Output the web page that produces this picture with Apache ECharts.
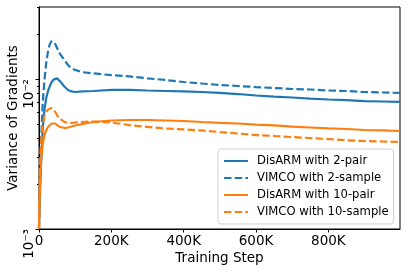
<!DOCTYPE html>
<html>
<head>
<meta charset="utf-8">
<script src="https://cdn.jsdelivr.net/npm/echarts@6/dist/echarts.min.js"></script>
<style>html,body{margin:0;padding:0;background:#fff}#c{width:407px;height:268px}</style>
</head>
<body>
<div id="c"></div>
<script>
// Training steps (thousands)
const stepsK = [0, 2, 5, 10, 15, 20, 25, 30, 35, 40, 45, 50, 55, 60, 70, 80, 90, 100, 120, 150,
  200, 250, 300, 350, 400, 450, 500, 550, 600, 650, 700, 750, 800, 850, 900, 950, 998];

const disarm2 = [0.001, 0.00156, 0.00247, 0.00457, 0.00621, 0.00747, 0.00832, 0.00898, 0.00955, 0.0099,
  0.0102, 0.0101, 0.00985, 0.00955, 0.00891, 0.00845, 0.00826, 0.00819, 0.00826, 0.00832,
  0.00845, 0.00845, 0.00838, 0.00832, 0.00826, 0.00819, 0.00807, 0.00794, 0.00776, 0.00764,
  0.00753, 0.00741, 0.0073, 0.00724, 0.00713, 0.00708, 0.00703];

const vimco2 = [0.001, 0.00197, 0.00336, 0.0067, 0.0098, 0.0128, 0.0154, 0.0171, 0.0179, 0.0178,
  0.0171, 0.0161, 0.0151, 0.0145, 0.0134, 0.0124, 0.0118, 0.0115, 0.0111, 0.0109,
  0.0106, 0.0104, 0.0101, 0.00985, 0.00955, 0.00933, 0.00912, 0.00898, 0.00884, 0.00871,
  0.00858, 0.00851, 0.00838, 0.00832, 0.00819, 0.00813, 0.00807];

const disarm10 = [0.001, 0.00169, 0.00267, 0.00363, 0.00423, 0.00457, 0.00479, 0.00493, 0.00505, 0.0051,
  0.00505, 0.00493, 0.00482, 0.00475, 0.00471, 0.00475, 0.00482, 0.0049, 0.00501, 0.00517,
  0.00529, 0.00533, 0.00533, 0.00529, 0.00525, 0.00517, 0.0051, 0.00505, 0.00497, 0.0049,
  0.00482, 0.00475, 0.00468, 0.00464, 0.00457, 0.00454, 0.0045];

const vimco10 = [0.001, 0.00229, 0.00363, 0.00493, 0.00567, 0.00603, 0.00626, 0.0064, 0.0064, 0.00626,
  0.00603, 0.00575, 0.0055, 0.00537, 0.00517, 0.0051, 0.0051, 0.00513, 0.00517, 0.00521,
  0.00513, 0.00493, 0.00479, 0.00468, 0.00461, 0.00454, 0.00443, 0.00433, 0.00423, 0.00417,
  0.0041, 0.00404, 0.00398, 0.0039, 0.00386, 0.00383, 0.0038];

const seriesNames = ['DisARM with 2-pair', 'VIMCO with 2-sample', 'DisARM with 10-pair', 'VIMCO with 10-sample'];
const xTicks = [0, 200000, 400000, 600000, 800000];
const yMajorExp = [-3, -2];
const yMinor = [0.002, 0.003, 0.004, 0.005, 0.006, 0.007, 0.008, 0.009, 0.02, 0.03];
const yMin = 0.001, yMax = 0.0302;

const FONT = 'DejaVu Sans';
const BLUE = '#1f77b4', ORANGE = '#ff7f0e';
const sup = {'-': '⁻', '0': '⁰', '1': '¹', '2': '²', '3': '³', '4': '⁴', '5': '⁵', '6': '⁶', '7': '⁷', '8': '⁸', '9': '⁹'};
const supStr = s => String(s).split('').map(c => sup[c]).join('');

const pairs = arr => stepsK.map((s, i) => [s * 1000, arr[i]]);
const dataSets = [disarm2, vimco2, disarm10, vimco10];
const colors = [BLUE, BLUE, ORANGE, ORANGE];
const dashed = [false, true, false, true];

const lmin = Math.log10(yMin), lmax = Math.log10(yMax);
const labelAxis = (exp, extra) => Object.assign({
  type: 'value', min: lmin, max: lmax, position: 'left',
  axisLine: {show: false},
  axisTick: {show: true, length: 3.5, lineStyle: {color: '#000'}, customValues: [exp]},
  axisLabel: {show: true, customValues: [exp], rotate: 90, align: 'right', verticalAlign: 'bottom',
    alignMinLabel: 'right', alignMaxLabel: 'right',
    margin: 3, fontSize: 13.5, color: '#000', fontFamily: FONT,
    formatter: v => '10' + supStr(Math.round(v))},
  splitLine: {show: false}
}, extra || {});

const chart = echarts.init(document.getElementById('c'), null, {renderer: 'canvas'});
chart.setOption({
  animation: false,
  textStyle: {fontFamily: FONT},
  grid: {left: 39, right: 7, top: 7, bottom: 39, outerBoundsMode: 'none', containLabel: false,
    show: true, borderColor: '#000', borderWidth: 1, backgroundColor: 'transparent'},
  xAxis: {
    type: 'value', min: 0, max: 998000,
    name: 'Training Step', nameLocation: 'middle', nameGap: 22, nameMoveOverlap: false,
    nameTextStyle: {fontSize: 13.5, color: '#000', fontFamily: FONT},
    axisLine: {lineStyle: {color: '#000', width: 1}},
    axisTick: {show: true, length: 3.5, lineStyle: {color: '#000'}, customValues: xTicks},
    axisLabel: {fontSize: 13.5, color: '#000', margin: 5, fontFamily: FONT, customValues: xTicks,
      formatter: v => v === 0 ? '0' : (v / 1000) + 'K'},
    splitLine: {show: false}
  },
  yAxis: [
    {
      type: 'log', min: yMin, max: yMax, logBase: 10,
      axisLine: {show: false}, axisTick: {show: false}, axisLabel: {show: false}, splitLine: {show: false}
    },
    {
      type: 'value', min: lmin, max: lmax, position: 'left',
      axisLine: {show: true, lineStyle: {color: '#000'}},
      axisTick: {show: true, length: 2, lineStyle: {color: '#000'}, customValues: yMinor.map(v => Math.log10(v))},
      axisLabel: {show: false}, splitLine: {show: false}
    },
    labelAxis(yMajorExp[1], {
      name: 'Variance of Gradients', nameLocation: 'middle', nameGap: 19, nameMoveOverlap: false,
      nameTextStyle: {fontSize: 13.5, color: '#000', fontFamily: FONT}
    }),
    labelAxis(yMajorExp[0])
  ],
  legend: {
    orient: 'vertical', left: 218, top: 149,
    padding: [5, 5, 5, 5], itemGap: 3, itemWidth: 24, itemHeight: 14,
    backgroundColor: 'rgba(255,255,255,0.8)', borderColor: '#d0d0d0', borderWidth: 1, borderRadius: 3,
    itemStyle: {color: 'transparent', borderColor: 'transparent', borderWidth: 0},
    textStyle: {fontSize: 11.6, color: '#000', fontFamily: FONT, lineHeight: 14, padding: [0, 0, 0, 4]},
    data: seriesNames
  },
  series: dataSets.map((d, i) => ({
    name: seriesNames[i], type: 'line', yAxisIndex: 0, data: pairs(d),
    symbol: 'none', showSymbol: false, clip: true,
    lineStyle: {color: colors[i], width: 2.2, type: dashed[i] ? [7.5, 3.2] : 'solid'},
    itemStyle: {color: colors[i]}
  }))
});
</script>
</body>
</html>
